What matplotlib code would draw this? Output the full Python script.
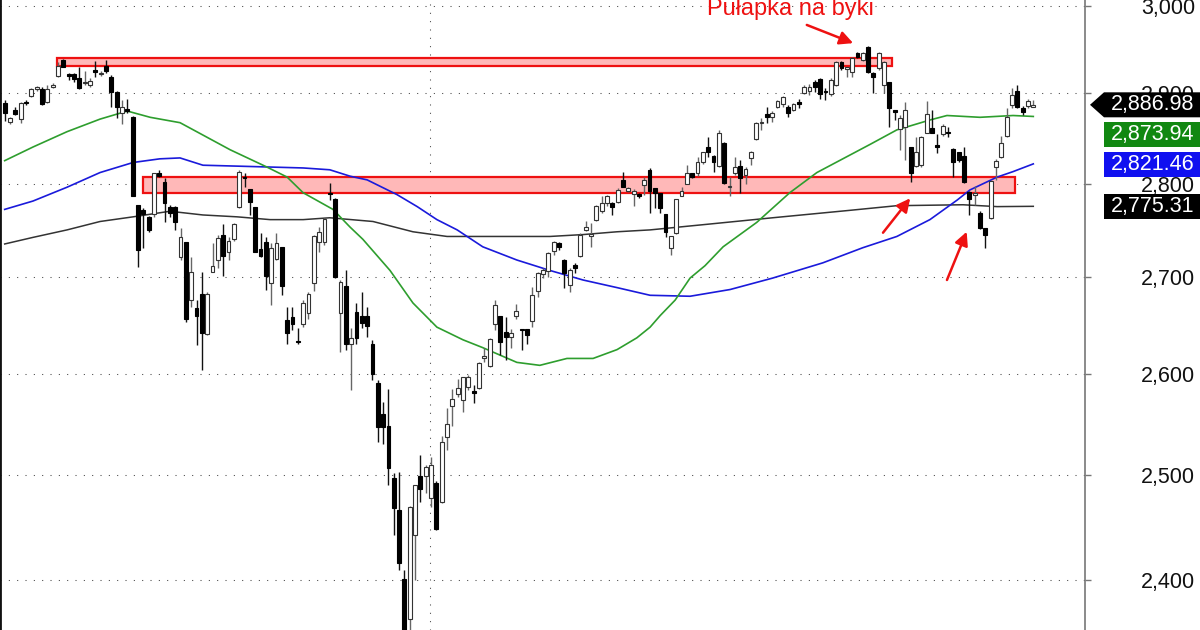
import matplotlib
matplotlib.use("Agg")
import matplotlib.pyplot as plt
import matplotlib.transforms as mtransforms
from matplotlib.patches import Rectangle, Polygon
from matplotlib.ticker import NullLocator, NullFormatter

# daily candles, oldest first
opens = [2889, 2868, 2881, 2871, 2890, 2897, 2905, 2905, 2890, 2907,
         2920, 2938, 2922, 2922, 2917, 2912, 2909, 2926, 2922, 2931,
         2918, 2901, 2878, 2882, 2873, 2777, 2771, 2764, 2767, 2812,
         2802, 2775, 2775, 2721, 2737, 2676, 2668, 2682, 2641, 2705,
         2718, 2745, 2727, 2740, 2775, 2807, 2794, 2775, 2730, 2737,
         2694, 2719, 2732, 2655, 2658, 2634, 2651, 2663, 2694, 2737,
         2737, 2790, 2783, 2663, 2691, 2631, 2664, 2659, 2659, 2631,
         2591, 2560, 2548, 2497, 2466, 2401, 2364, 2443, 2499, 2499,
         2478, 2492, 2474, 2537, 2568, 2580, 2574, 2587, 2583, 2586,
         2616, 2608, 2651, 2659, 2643, 2638, 2659, 2646, 2646, 2654,
         2685, 2703, 2706, 2728, 2736, 2718, 2692, 2713, 2722, 2750,
         2744, 2761, 2770, 2779, 2779, 2780, 2804, 2792, 2789, 2789,
         2798, 2815, 2795, 2790, 2767, 2731, 2747, 2787, 2799, 2811,
         2811, 2823, 2840, 2830, 2819, 2845, 2796, 2812, 2819, 2809,
         2828, 2849, 2867, 2877, 2873, 2885, 2888, 2885, 2881, 2890,
         2900, 2903, 2913, 2916, 2903, 2899, 2909, 2935, 2928, 2924,
         2946, 2938, 2953, 2923, 2929, 2909, 2913, 2881, 2860, 2862,
         2840, 2819, 2820, 2856, 2861, 2842, 2854, 2857, 2838, 2834,
         2830, 2791, 2788, 2768, 2752, 2763, 2818, 2829, 2852, 2887,
         2902, 2883, 2886, 2885]
highs = [2892, 2873, 2885, 2890, 2892, 2906, 2908, 2907, 2909, 2912,
         2935, 2939, 2923, 2923, 2930, 2925, 2917, 2936, 2925, 2938,
         2921, 2903, 2892, 2893, 2875, 2777, 2774, 2765, 2812, 2815,
         2806, 2777, 2776, 2752, 2737, 2721, 2676, 2705, 2684, 2736,
         2745, 2756, 2742, 2757, 2815, 2812, 2794, 2775, 2747, 2742,
         2736, 2747, 2732, 2669, 2669, 2647, 2676, 2684, 2745, 2753,
         2763, 2801, 2784, 2697, 2707, 2647, 2673, 2684, 2669, 2635,
         2594, 2572, 2585, 2502, 2503, 2410, 2470, 2490, 2520, 2510,
         2518, 2494, 2538, 2566, 2585, 2595, 2597, 2599, 2589, 2612,
         2627, 2637, 2676, 2660, 2658, 2646, 2672, 2646, 2646, 2690,
         2705, 2710, 2726, 2738, 2737, 2719, 2710, 2715, 2747, 2760,
         2757, 2777, 2786, 2788, 2780, 2795, 2813, 2796, 2794, 2790,
         2807, 2817, 2795, 2790, 2767, 2744, 2783, 2796, 2820, 2812,
         2829, 2835, 2851, 2831, 2859, 2846, 2807, 2829, 2826, 2818,
         2836, 2868, 2872, 2885, 2880, 2892, 2897, 2887, 2889, 2893,
         2909, 2910, 2915, 2917, 2906, 2917, 2936, 2936, 2930, 2941,
         2947, 2947, 2954, 2924, 2947, 2936, 2913, 2881, 2876, 2890,
         2840, 2851, 2852, 2891, 2881, 2854, 2866, 2862, 2839, 2834,
         2840, 2792, 2797, 2770, 2752, 2804, 2827, 2852, 2883, 2906,
         2909, 2886, 2894, 2892]
lows = [2869, 2866, 2876, 2867, 2887, 2896, 2903, 2887, 2889, 2906,
        2918, 2930, 2915, 2913, 2905, 2909, 2907, 2918, 2920, 2923,
        2885, 2872, 2865, 2878, 2786, 2711, 2731, 2748, 2764, 2807,
        2758, 2764, 2750, 2718, 2653, 2669, 2630, 2604, 2640, 2705,
        2710, 2701, 2718, 2738, 2774, 2796, 2766, 2726, 2721, 2687,
        2671, 2718, 2681, 2631, 2645, 2631, 2648, 2656, 2685, 2726,
        2734, 2782, 2699, 2623, 2625, 2584, 2631, 2647, 2638, 2594,
        2532, 2530, 2490, 2443, 2410, 2340, 2350, 2400, 2474, 2483,
        2469, 2447, 2473, 2525, 2548, 2577, 2562, 2584, 2571, 2585,
        2612, 2607, 2645, 2620, 2614, 2627, 2656, 2625, 2631, 2648,
        2679, 2699, 2700, 2723, 2729, 2689, 2684, 2704, 2721, 2749,
        2732, 2760, 2768, 2776, 2766, 2779, 2796, 2791, 2776, 2784,
        2788, 2768, 2774, 2768, 2742, 2723, 2746, 2786, 2799, 2806,
        2808, 2821, 2829, 2813, 2818, 2799, 2786, 2809, 2790, 2799,
        2820, 2848, 2859, 2867, 2868, 2883, 2885, 2873, 2880, 2883,
        2899, 2898, 2901, 2893, 2892, 2897, 2908, 2926, 2918, 2918,
        2940, 2936, 2923, 2900, 2926, 2900, 2862, 2870, 2837, 2826,
        2802, 2818, 2818, 2855, 2855, 2833, 2852, 2851, 2807, 2823,
        2801, 2766, 2777, 2751, 2731, 2762, 2804, 2828, 2851, 2883,
        2883, 2876, 2883, 2885]
closes = [2878, 2872, 2877, 2889, 2889, 2905, 2907, 2888, 2905, 2909,
          2931, 2930, 2920, 2916, 2906, 2913, 2914, 2924, 2923, 2925,
          2901, 2885, 2885, 2880, 2786, 2729, 2767, 2750, 2811, 2808,
          2779, 2768, 2758, 2742, 2656, 2705, 2659, 2642, 2682, 2712,
          2741, 2722, 2738, 2756, 2813, 2806, 2780, 2727, 2722, 2701,
          2731, 2736, 2691, 2642, 2651, 2633, 2673, 2682, 2744, 2748,
          2762, 2789, 2700, 2695, 2631, 2637, 2637, 2652, 2649, 2600,
          2547, 2547, 2507, 2468, 2416, 2352, 2469, 2490, 2487, 2508,
          2510, 2448, 2532, 2550, 2575, 2586, 2597, 2597, 2581, 2611,
          2618, 2636, 2671, 2633, 2638, 2642, 2665, 2645, 2640, 2681,
          2704, 2707, 2725, 2737, 2732, 2704, 2707, 2710, 2745, 2753,
          2746, 2776, 2779, 2786, 2775, 2793, 2796, 2795, 2792, 2786,
          2804, 2792, 2790, 2773, 2748, 2744, 2783, 2792, 2812, 2807,
          2823, 2834, 2834, 2824, 2856, 2801, 2797, 2818, 2806, 2816,
          2834, 2867, 2868, 2873, 2878, 2891, 2896, 2878, 2888, 2888,
          2907, 2907, 2907, 2899, 2901, 2915, 2935, 2929, 2930, 2940,
          2941, 2946, 2924, 2918, 2946, 2935, 2883, 2879, 2872, 2881,
          2812, 2834, 2851, 2877, 2856, 2840, 2863, 2855, 2823, 2826,
          2802, 2783, 2790, 2752, 2745, 2803, 2825, 2845, 2873, 2898,
          2885, 2879, 2891, 2886.98]

# moving averages (candle index, value)
ma_green_x = [0, 5.3, 11.7, 17.9, 23, 27.3, 32.9, 42.3, 49.2, 53, 56, 61.6, 64.8,
              67.2, 72.3, 76.6, 81.1, 86, 89.7, 96.1, 100.4, 105.5, 110.4, 114.9,
              118.6, 121.1, 123, 125.8, 128.6, 131.4, 134.8, 141.1, 147.3, 152.4,
              162.4, 167.4, 170.8, 173.6, 176.8, 183, 189.2, 193]
ma_green_y = [2825, 2840, 2857, 2871, 2880, 2873, 2867, 2837, 2818, 2807, 2790, 2772, 2753,
              2740, 2707, 2673, 2648, 2635, 2627, 2612, 2609, 2616, 2616, 2625,
              2637, 2648, 2660, 2676, 2699, 2712, 2732, 2758, 2790, 2812,
              2843, 2859, 2865, 2870, 2875, 2873, 2875, 2873.94]
ma_blue_x = [0, 5.3, 11.7, 17.9, 24.1, 29.1, 32.9, 37.2, 43.6, 49.8, 56, 61, 64.8, 68,
             73.6, 77.4, 81.1, 84.9, 89.7, 96.1, 102.3, 108.5, 114.9, 121.1, 128.6,
             136.1, 144.1, 153.5, 161, 167.4, 173.6, 178.7, 181.1, 186.2, 189.2, 193]
ma_blue_y = [2772, 2781, 2796, 2812, 2823, 2827, 2828, 2820, 2819, 2818, 2817, 2815, 2808, 2804,
             2788, 2775, 2761, 2750, 2732, 2718, 2707, 2697, 2689, 2681, 2680,
             2687, 2699, 2715, 2731, 2743, 2761, 2782, 2793, 2807, 2813, 2821.46]
ma_black_x = [0, 5.3, 11.7, 17.9, 24.1, 31, 37.2, 43.6, 49.8, 56, 61, 69.1, 76.6, 83,
              92.9, 102.3, 108.5, 114.9, 121.1, 131.8, 144.1, 158.6, 167.4, 179.8,
              186.2, 193]
ma_black_y = [2735, 2742, 2750, 2759, 2764, 2770, 2766, 2764, 2761, 2761, 2763, 2759, 2748, 2743,
              2743, 2743, 2745, 2748, 2750, 2756, 2763, 2771, 2776, 2777,
              2775, 2775.31]

price_ticks = [2400, 2500, 2600, 2700, 2800, 2900, 3000]
tick_labels = ["2,400", "2,500", "2,600", "2,700", "2,800", "2,900", "3,000"]

# resistance zones: (first candle, last candle, low, high)
zones = [(9.8, 166.5, 2931, 2940), (26.0, 189.5, 2790, 2807)]
month_break = 79.8

GREEN = "#2e9e2e"
BLUE = "#1a1adb"
RED = "#ee1111"

plt.rcParams['font.family'] = ['Liberation Sans', 'DejaVu Sans']

fig = plt.figure(figsize=(12, 6.3), dpi=100)
ax = fig.add_axes([0, 0, 1085 / 1200, 1])
ax.set_yscale('log')
ax.set_xlim(-0.88, 202.7)
ax.set_ylim(2354, 3007)

ax.set_yticks(price_ticks, labels=tick_labels)
ax.yaxis.set_minor_locator(NullLocator())
ax.yaxis.set_minor_formatter(NullFormatter())
ax.yaxis.tick_right()
ax.tick_params(axis='y', length=4, width=1, color='#777', pad=36.5,
               labelsize=15.5, labelcolor='#111')
ax.set_xticks([])
ax.grid(axis='y', color='#444', lw=0.75, linestyle=(0, (1, 7)))
ax.axvline(month_break, color='#444', lw=0.75, linestyle=(0, (1, 7)), zorder=1)
for side in ['top', 'bottom']:
    ax.spines[side].set_visible(False)
ax.spines['left'].set_color('#111')
ax.spines['left'].set_linewidth(2)
ax.spines['right'].set_color('#777')
ax.spines['right'].set_linewidth(1.2)

for x0, x1, lo, hi in zones:
    ax.add_patch(Rectangle((x0, lo), x1 - x0, hi - lo, facecolor='#ffb8b8',
                           edgecolor=RED, lw=1.6, zorder=2))

ax.plot(ma_black_x, ma_black_y, color='#333333', lw=1.1, zorder=2.5)
ax.plot(ma_blue_x, ma_blue_y, color=BLUE, lw=1.2, zorder=2.5)
ax.plot(ma_green_x, ma_green_y, color=GREEN, lw=1.2, zorder=2.5)

# candles
idx = list(range(len(opens)))
ups = [c >= o for o, c in zip(opens, closes)]
bottoms = [min(o, c) for o, c in zip(opens, closes)]
heights = [max(abs(c - o), 0.8) for o, c in zip(opens, closes)]
ax.vlines(idx, lows, highs, colors=['#666' if u else '#111' for u in ups], lw=1, zorder=3)
ax.bar(idx, heights, bottom=bottoms, width=0.72,
       color=['white' if u else 'black' for u in ups],
       edgecolor=['#333' if u else 'black' for u in ups], lw=0.8, zorder=4)

# annotations
arrow = dict(arrowstyle='-|>', color=RED, lw=1.8, mutation_scale=20, shrinkA=0, shrinkB=0)
ax.annotate('', xy=(159.2, 2957), xytext=(150.5, 2978), arrowprops=arrow, zorder=6)
ax.annotate('', xy=(169.9, 2784), xytext=(164.8, 2747), arrowprops=arrow, zorder=6)
ax.annotate('', xy=(180.5, 2748), xytext=(176.8, 2697), arrowprops=arrow, zorder=6)
ax.text(147.5, 2990, 'Pułapka na byki', color=RED, fontsize=17,
        ha='center', va='baseline', zorder=6)

# value tags on the price axis
ident = mtransforms.IdentityTransform()
tags = [(closes[-1], 'black', True), (ma_green_y[-1], '#118811', False),
        (ma_blue_y[-1], '#1010f0', False), (ma_black_y[-1], 'black', False)]
prev = None
for val, col, pointer in tags:
    yc = ax.transData.transform((0, val))[1]
    if prev is not None and yc > prev - 30:
        yc = prev - 30
    prev = yc
    h = 12.5
    if pointer:
        pts = [(1090, yc), (1104, yc + h), (1200, yc + h), (1200, yc - h), (1104, yc - h)]
    else:
        pts = [(1104, yc + h), (1200, yc + h), (1200, yc - h), (1104, yc - h)]
    fig.add_artist(Polygon(pts, closed=True, facecolor=col, edgecolor='none',
                           transform=ident, zorder=10))
    fig.text(1111, yc, f"{val:,.2f}", transform=ident, color='white', fontsize=15.5,
             va='center', ha='left', zorder=11)

fig.savefig('out.png', dpi=100)
